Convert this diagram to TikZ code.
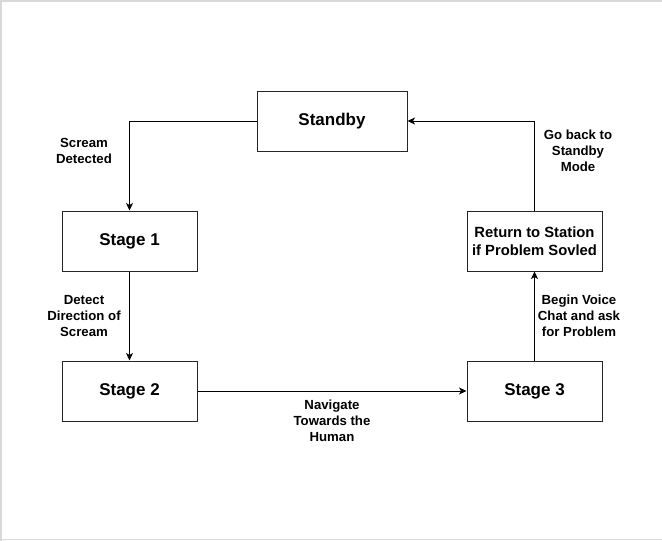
\documentclass[tikz,border=0pt]{standalone}
\usepackage{fontspec}
\setmainfont{Liberation Sans}
\usetikzlibrary{arrows.meta}
\begin{document}
\begin{tikzpicture}[x=1pt,y=-1pt,
  box/.style={draw=black!85,line width=1pt,fill=white,minimum width=135pt,minimum height=60pt,inner sep=0pt,font=\fontsize{17}{20}\selectfont\bfseries,align=center},
  smallbox/.style={box,font=\fontsize{14.8}{17.6}\selectfont\bfseries},
  lbl/.style={align=center,inner sep=0pt,font=\fontsize{13.2}{16}\selectfont\bfseries},
  arr/.style={draw=black,line width=1pt,-{Stealth[length=7.5pt,width=7pt,inset=2pt]}}]
\useasboundingbox (0,0) rectangle (662,541);
\fill[white] (0,0) rectangle (662,541);
\draw[black!15,line width=1.5pt] (1,541) -- (1,1) -- (662,1);
\draw[black!15,line width=1.5pt] (1,539.5) -- (662,539.5);

\node[box,minimum width=150pt] (standby) at (332,121) {Standby};
\node[box] (s1) at (129.5,241) {Stage 1};
\node[box] (s2) at (129.5,391) {Stage 2};
\node[box] (s3) at (534.5,391) {Stage 3};
\node[smallbox] (ret) at (534.5,241) {Return to Station\\if Problem Sovled};

\draw[arr] (standby.west) -| (s1.north);
\draw[arr] (s1) -- (s2);
\draw[arr] (s2) -- (s3);
\draw[arr] (s3) -- (ret);
\draw[arr] (ret.north) |- (standby.east);

\node[lbl] (l1) at (84,151) {Scream\\Detected};
\node[lbl] (l2) at (84,316) {Detect\\Direction of\\Scream};
\node[lbl] (l3) at (332,421) {Navigate\\Towards the\\Human};
\node[lbl] (l4) at (579,316) {Begin Voice\\Chat and ask\\for Problem};
\node[lbl] (l5) at (578,151) {Go back to\\Standby\\Mode};
\end{tikzpicture}
\end{document}
